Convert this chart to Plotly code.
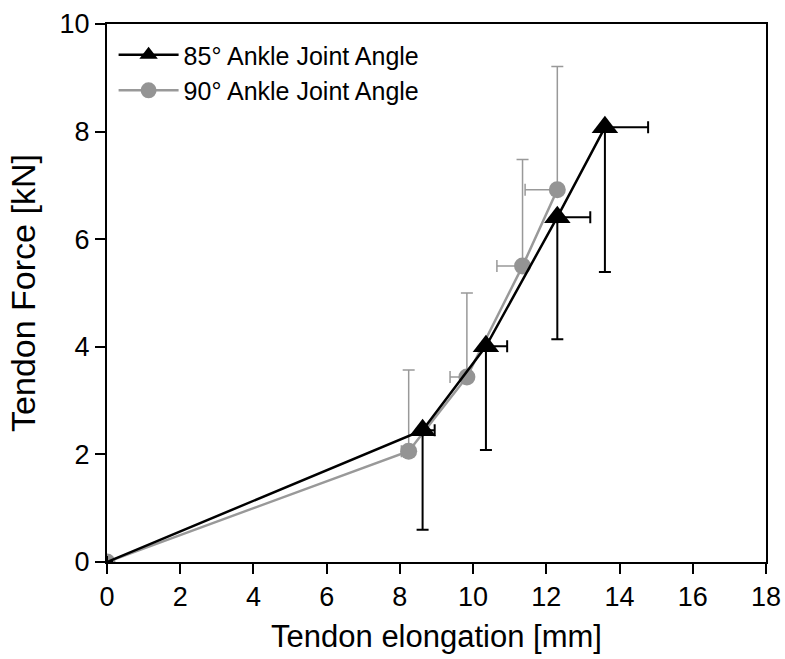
import plotly.graph_objects as go

# 85° ankle joint angle
x85 = [0, 8.62, 10.35, 12.3, 13.6]
y85 = [0, 2.45, 4.01, 6.41, 8.08]
x85_err_plus = [0, 0.33, 0.58, 0.9, 1.18]
y85_err_minus = [0, 1.85, 1.93, 2.27, 2.69]

# 90° ankle joint angle
x90 = [0, 8.24, 9.83, 11.35, 12.3]
y90 = [0, 2.06, 3.44, 5.5, 6.92]
x90_err_minus = [0, 0.2, 0.46, 0.7, 0.88]
y90_err_plus = [0, 1.51, 1.56, 1.98, 2.29]

xticks = [0, 2, 4, 6, 8, 10, 12, 14, 16, 18]
yticks = [0, 2, 4, 6, 8, 10]

FONT = "Liberation Sans, Arial"
GREY = "#999999"

fig = go.Figure()

fig.add_trace(go.Scatter(
    x=x90, y=y90, mode="lines+markers", name="90° Ankle Joint Angle",
    line=dict(color=GREY, width=2.5),
    marker=dict(symbol="circle", size=17, color="#949494", opacity=1),
    cliponaxis=True,
    error_y=dict(type="data", symmetric=False, array=y90_err_plus,
                 arrayminus=[0] * len(y90), color=GREY, thickness=1.5, width=6),
    error_x=dict(type="data", symmetric=False, array=[0] * len(x90),
                 arrayminus=x90_err_minus, color=GREY, thickness=1.5, width=6),
))

fig.add_trace(go.Scatter(
    x=x85, y=y85, mode="lines+markers", name="85° Ankle Joint Angle",
    line=dict(color="black", width=2.5),
    marker=dict(symbol="triangle-up", size=[0, 23, 23, 23, 23], color="#000000",
                opacity=1, line=dict(width=0, color="#000000")),
    cliponaxis=True,
    error_y=dict(type="data", symmetric=False, array=[0] * len(y85),
                 arrayminus=y85_err_minus, color="black", thickness=2, width=6),
    error_x=dict(type="data", symmetric=False, array=x85_err_plus,
                 arrayminus=[0] * len(x85), color="black", thickness=2, width=6),
))

fig.update_layout(
    width=785, height=659,
    margin=dict(l=107, r=19, t=24, b=97),
    paper_bgcolor="white", plot_bgcolor="white",
    showlegend=True,
    legend=dict(x=0.01, y=0.985, xanchor="left", yanchor="top",
                traceorder="reversed", bgcolor="rgba(0,0,0,0)",
                font=dict(family=FONT, size=25, color="black"),
                itemwidth=60, tracegroupgap=0),
    font=dict(family=FONT, color="black"),
)

fig.update_xaxes(
    range=[0, 18], tickvals=xticks, ticktext=[str(v) for v in xticks],
    showgrid=False, zeroline=False, automargin=False,
    showline=True, linecolor="black", linewidth=2, mirror=True,
    ticks="outside", ticklen=10, tickwidth=2, tickcolor="black",
    tickfont=dict(family=FONT, size=27, color="black"),
    title=dict(text="Tendon elongation [mm]", font=dict(family=FONT, size=31, color="black"), standoff=14),
)
fig.update_yaxes(
    range=[0, 10], tickvals=yticks, ticktext=[str(v) for v in yticks],
    showgrid=False, zeroline=False, automargin=False,
    showline=True, linecolor="black", linewidth=2, mirror=True,
    ticks="outside", ticklen=10, tickwidth=2, tickcolor="black",
    tickfont=dict(family=FONT, size=27, color="black"),
    title=dict(text="Tendon Force [kN]", font=dict(family=FONT, size=34, color="black"), standoff=14),
)

# remove the page's default 8px body margin so the figure fills the window exactly
fig.write_html("out.html", config={"displayModeBar": False},
               post_script="document.body.style.margin='0';document.body.style.overflow='hidden';")
